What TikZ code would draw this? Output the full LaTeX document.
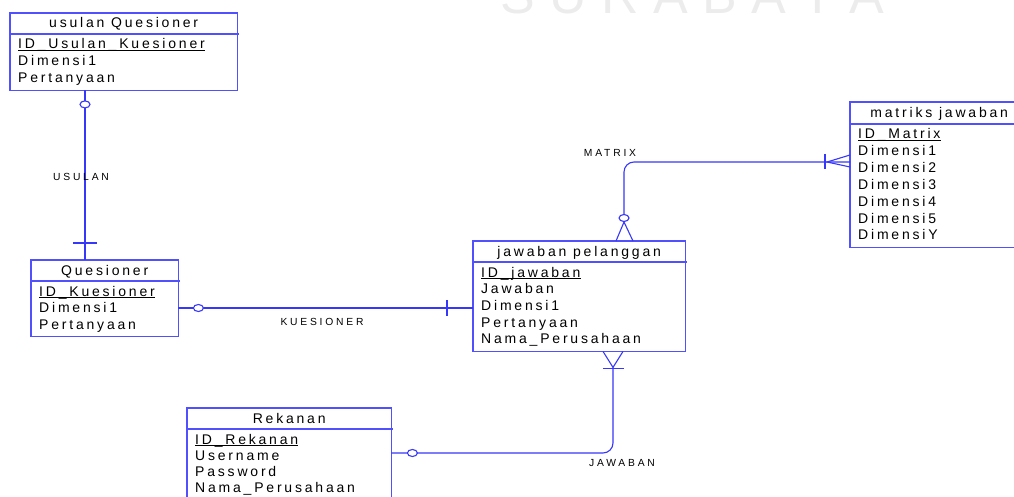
\documentclass[tikz,border=0pt]{standalone}
\usepackage{fontspec}
\setmainfont{Liberation Sans}
\newfontfamily\entfont[LetterSpace=20]{Liberation Sans}
\newfontfamily\relfont[LetterSpace=27]{Liberation Sans}
\usetikzlibrary{calc, shapes.geometric}
\definecolor{entblue}{RGB}{80,80,255}
\definecolor{relblue}{RGB}{55,55,250}
\definecolor{wmgray}{RGB}{236,236,236}
\tikzset{
    er-entity/.style={anchor=north west, inner sep=0pt},
    er-line/.style={draw=entblue, line width=1.1pt},
    er-title/.style={anchor=base, inner sep=0pt, font=\entfont\fontsize{14}{16}\selectfont},
    er-attr/.style={anchor=base west, inner sep=0pt, font=\entfont\fontsize{14}{16}\selectfont},
    er-key/.style={draw=black, line width=0.9pt},
    er-rel/.style={draw=relblue, line width=1.1pt},
    er-label/.style={inner sep=0pt, font=\relfont\fontsize{10.3}{12}\selectfont},
    er-zero/.style={
        ellipse, draw=relblue, line width=1.1pt, fill=white,
        minimum width=10pt, minimum height=7pt, inner sep=0pt
    },
}

\begin{document}
\begin{tikzpicture}[x=1pt, y=-1pt]

        \useasboundingbox (0,0) rectangle (1014,497);
        \clip (0,0) rectangle (1014,497);

        % WATERMARK
        \node[anchor=base west, inner sep=0pt, text=wmgray, font=\fontsize{52}{52}\selectfont] (WM) at (500,14) {S U R A B A Y A};

        % ENTITY: USULAN QUESIONER
        \node[er-entity, minimum width=227pt, minimum height=77pt] (UQ) at (10,13) {};
        \draw[er-line] (UQ.north west) rectangle (UQ.south east);
        \node[er-title] (UQ-t) at ($(UQ.north)+(0,15)$) {usulan Quesioner};
        \draw[er-line] ($(UQ.north west)+(0,21)$) -- ++(229,0);
        \node[er-attr] (UQ-a0) at ($(UQ.north west)+(8,36)$) {ID\_Usulan\_Kuesioner};
        \draw[er-key] ($(UQ-a0.base west)+(0,1.8)$) -- ($(UQ-a0.base east)+(0,1.8)$);
        \foreach \att [count=\i] in {Dimensi1, Pertanyaan}
            \node[er-attr] (UQ-a\i) at ($(UQ.north west)+(8,36+16.6*\i)$) {\att};

        % ENTITY: QUESIONER
        \node[er-entity, minimum width=147pt, minimum height=76pt] (QS) at (31,260) {};
        \draw[er-line] (QS.north west) rectangle (QS.south east);
        \node[er-title] (QS-t) at ($(QS.north)+(0,15)$) {Quesioner};
        \draw[er-line] ($(QS.north west)+(0,21)$) -- ++(149,0);
        \node[er-attr] (QS-a0) at ($(QS.north west)+(8,36)$) {ID\_Kuesioner};
        \draw[er-key] ($(QS-a0.base west)+(0,1.8)$) -- ($(QS-a0.base east)+(0,1.8)$);
        \foreach \att [count=\i] in {Dimensi1, Pertanyaan}
            \node[er-attr] (QS-a\i) at ($(QS.north west)+(8,36+16.6*\i)$) {\att};

        % ENTITY: JAWABAN PELANGGAN
        \node[er-entity, minimum width=212pt, minimum height=110pt] (JP) at (473,241) {};
        \draw[er-line] (JP.north west) rectangle (JP.south east);
        \node[er-title] (JP-t) at ($(JP.north)+(0,15)$) {jawaban pelanggan};
        \draw[er-line] ($(JP.north west)+(0,21)$) -- ++(214,0);
        \node[er-attr] (JP-a0) at ($(JP.north west)+(8,36)$) {ID\_jawaban};
        \draw[er-key] ($(JP-a0.base west)+(0,1.8)$) -- ($(JP-a0.base east)+(0,1.8)$);
        \foreach \att [count=\i] in {Jawaban, Dimensi1, Pertanyaan, Nama\_Perusahaan}
            \node[er-attr] (JP-a\i) at ($(JP.north west)+(8,36+16.7*\i)$) {\att};

        % ENTITY: MATRIKS JAWABAN
        \node[er-entity, minimum width=178pt, minimum height=145pt] (MJ) at (850,102) {};
        \draw[er-line] (MJ.north west) rectangle (MJ.south east);
        \node[er-title] (MJ-t) at ($(MJ.north)+(0,16)$) {matriks jawaban};
        \draw[er-line] ($(MJ.north west)+(0,22)$) -- ++(180,0);
        \node[er-attr] (MJ-a0) at ($(MJ.north west)+(8,37)$) {ID\_Matrix};
        \draw[er-key] ($(MJ-a0.base west)+(0,1.8)$) -- ($(MJ-a0.base east)+(0,1.8)$);
        \foreach \att [count=\i] in {Dimensi1, Dimensi2, Dimensi3, Dimensi4, Dimensi5, DimensiY}
            \node[er-attr] (MJ-a\i) at ($(MJ.north west)+(8,37+16.8*\i)$) {\att};

        % ENTITY: REKANAN
        \node[er-entity, minimum width=204pt, minimum height=100pt] (RK) at (187,408) {};
        \draw[er-line] (RK.north west) rectangle (RK.south east);
        \node[er-title] (RK-t) at ($(RK.north)+(0,15)$) {Rekanan};
        \draw[er-line] ($(RK.north west)+(0,21)$) -- ++(206,0);
        \node[er-attr] (RK-a0) at ($(RK.north west)+(8,36)$) {ID\_Rekanan};
        \draw[er-key] ($(RK-a0.base west)+(0,1.8)$) -- ($(RK-a0.base east)+(0,1.8)$);
        \foreach \att [count=\i] in {Username, Password, Nama\_Perusahaan}
            \node[er-attr] (RK-a\i) at ($(RK.north west)+(8,36+16.3*\i)$) {\att};

        % CONNECTOR POINTS
        \coordinate (UQ-s) at ($(UQ.south west)+(75,0)$);
        \coordinate (QS-n) at ($(QS.north west)+(54,0)$);
        \coordinate (QS-e) at ($(QS.north east)+(0,48)$);
        \coordinate (JP-w) at ($(JP.north west)+(0,67)$);
        \coordinate (JP-n) at ($(JP.north west)+(151,0)$);
        \coordinate (JP-s) at ($(JP.south west)+(140,0)$);
        \coordinate (MJ-w) at ($(MJ.north west)+(0,60)$);
        \coordinate (RK-e) at ($(RK.north east)+(0,45)$);

        % RELATION: USULAN
        \draw[er-rel] (UQ-s) -- (QS-n);
        \draw[er-rel] ($(QS-n)+(-12,-17)$) -- ++(24,0);
        \node[er-zero] (UQ-o) at ($(UQ-s)+(0,14)$) {};
        \node[er-label] (L-US) at (81,177) {USULAN};

        % RELATION: KUESIONER
        \draw[er-rel] (QS-e) -- (JP-w);
        \draw[er-rel] ($(JP-w)+(-26,-8)$) -- ++(0,16);
        \node[er-zero] (QS-o) at ($(QS-e)+(20,0)$) {};
        \node[er-label] (L-KU) at (322,322) {KUESIONER};

        % RELATION: MATRIX
        \draw[er-rel, rounded corners=10pt] ($(JP-n)+(0,-19)$) |- (MJ-w);
        \draw[er-rel] ($(JP-n)+(-8,0)$) -- ($(JP-n)+(0,-19)$) -- ($(JP-n)+(9,0)$);
        \draw[er-rel] ($(MJ-w)+(0,-7)$) -- ($(MJ-w)+(-23,0)$) -- ($(MJ-w)+(0,5)$);
        \draw[er-rel] ($(MJ-w)+(-25,-8)$) -- ++(0,15);
        \node[er-zero] (JP-o) at ($(JP-n)+(0,-23)$) {};
        \node[er-label] (L-MA) at (610,153) {MATRIX};

        % RELATION: JAWABAN
        \draw[er-rel, rounded corners=10pt] ($(JP-s)+(0,16)$) |- (RK-e);
        \draw[er-rel] ($(JP-s)+(-10,0)$) -- ($(JP-s)+(0,16)$) -- ($(JP-s)+(10,0)$);
        \draw[er-rel] ($(JP-s)+(-10,17)$) -- ++(21,0);
        \node[er-zero] (RK-o) at ($(RK-e)+(21,0)$) {};
        \node[er-label] (L-JA) at (622,463) {JAWABAN};

    \end{tikzpicture}
\end{document}
